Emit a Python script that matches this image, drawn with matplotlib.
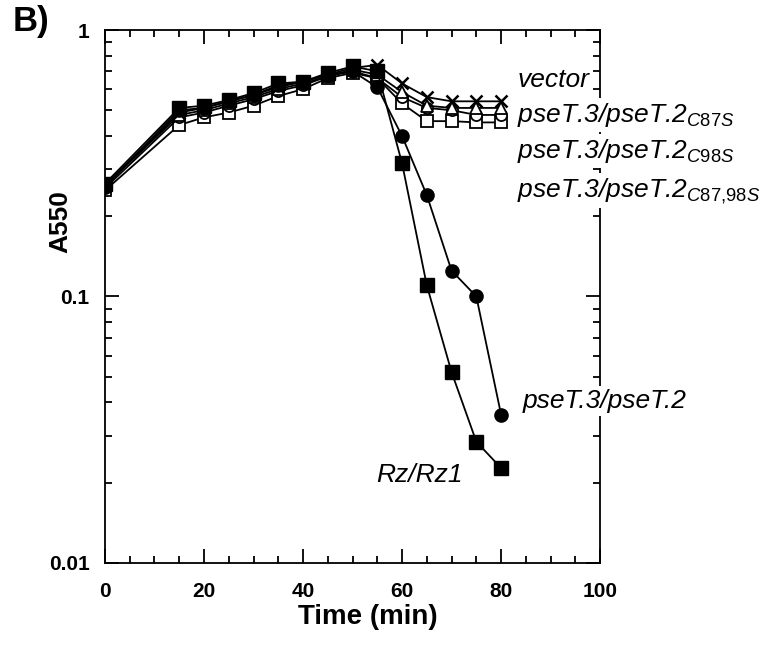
import numpy as np
import matplotlib
matplotlib.use('Agg')
import matplotlib.pyplot as plt
from matplotlib.ticker import MultipleLocator, LogLocator, NullFormatter, FixedLocator

plt.rcParams['font.family'] = ['Liberation Sans', 'DejaVu Sans']
plt.rcParams['mathtext.fontset'] = 'custom'
plt.rcParams['mathtext.it'] = 'Liberation Sans:italic'
plt.rcParams['mathtext.rm'] = 'Liberation Sans'

# dados
tempo = [0, 15, 20, 25, 30, 35, 40, 45, 50, 55, 60, 65, 70, 75, 80]
vector = [0.26, 0.49, 0.51, 0.54, 0.57, 0.61, 0.64, 0.68, 0.72, 0.74, 0.63, 0.56, 0.54, 0.54, 0.54]
c87s = [0.26, 0.48, 0.50, 0.53, 0.56, 0.60, 0.63, 0.67, 0.71, 0.68, 0.585, 0.52, 0.51, 0.51, 0.51]
c98s = [0.255, 0.47, 0.49, 0.52, 0.55, 0.59, 0.62, 0.67, 0.70, 0.66, 0.56, 0.51, 0.50, 0.48, 0.48]
c8798s = [0.25, 0.44, 0.47, 0.49, 0.52, 0.565, 0.60, 0.66, 0.69, 0.66, 0.53, 0.455, 0.455, 0.45, 0.45]
pset = [0.26, 0.50, 0.51, 0.54, 0.57, 0.62, 0.64, 0.68, 0.70, 0.61, 0.40, 0.24, 0.125, 0.10, 0.036]
rz = [0.265, 0.51, 0.52, 0.546, 0.58, 0.63, 0.64, 0.69, 0.73, 0.70, 0.316, 0.11, 0.052, 0.0285, 0.0227]

fig = plt.figure(figsize=(7.81, 6.47), dpi=100)
ax = fig.add_axes([0.1344, 0.130, 0.634, 0.8236])

lw = 1.3
ax.plot(tempo, c8798s, color='black', lw=lw, marker='s', ms=8.5, mfc='white', mec='black', mew=1.3)
ax.plot(tempo, c98s, color='black', lw=lw, marker='o', ms=8, mfc='white', mec='black', mew=1.3)
ax.plot(tempo, c87s, color='black', lw=lw, marker='^', ms=9, mfc='white', mec='black', mew=1.3)
ax.plot(tempo, vector, color='black', lw=lw, marker='x', ms=9, mec='black', mew=1.8)
ax.plot(tempo, pset, color='black', lw=lw, marker='o', ms=9.5, mfc='black', mec='black')
ax.plot(tempo, rz, color='black', lw=lw, marker='s', ms=10.5, mfc='black', mec='black')

ax.set_yscale('log')
ax.set_xlim(0, 100)
ax.set_ylim(0.01, 1)
ax.xaxis.set_major_locator(MultipleLocator(20))
ax.xaxis.set_minor_locator(MultipleLocator(5))
ax.yaxis.set_major_locator(FixedLocator([0.01, 0.1, 1]))
ax.yaxis.set_minor_locator(LogLocator(base=10, subs=np.arange(2, 10)))
ax.yaxis.set_minor_formatter(NullFormatter())
ax.set_yticklabels(['0.01', '0.1', '1'])
ax.tick_params(which='both', direction='in', top=True, right=True, width=1.3)
ax.tick_params(which='major', length=10, labelsize=15)
ax.tick_params(which='minor', length=5)
ax.tick_params(axis='x', which='major', pad=14)
ax.tick_params(axis='y', which='major', pad=11)
for lab in ax.get_xticklabels() + ax.get_yticklabels():
    lab.set_fontweight('bold')
for sp in ax.spines.values():
    sp.set_linewidth(1.3)

ax.set_xlabel('Time (min)', fontsize=20, fontweight='bold')
ax.set_ylabel('A550', fontsize=19, fontweight='bold')
ax.xaxis.set_label_coords(0.531, -0.078)
ax.yaxis.set_label_coords(-0.065, 0.64)

fs = 19
caixa = dict(facecolor='white', edgecolor='none', pad=2)
rotulos = [
    (0.834, 0.894, 'vector'),
    (0.832, 0.828, r'pseT.3/pseT.2$_{\mathit{C87S}}$'),
    (0.832, 0.760, r'pseT.3/pseT.2$_{\mathit{C98S}}$'),
    (0.832, 0.687, r'pseT.3/pseT.2$_{\mathit{C87{,}98S}}$'),
    (0.844, 0.291, 'pseT.3/pseT.2'),
]
for x, y, t in rotulos:
    ax.text(x, y, t, transform=ax.transAxes, fontsize=fs, style='italic',
            va='baseline', bbox=caixa, zorder=6, clip_on=False)
ax.text(0.723, 0.152, 'Rz/Rz1', transform=ax.transAxes, fontsize=fs, style='italic',
        va='baseline', ha='right', zorder=6)

fig.text(0.0166, 0.966, 'B)', fontsize=25, fontweight='bold', va='center')

plt.savefig('out.png', dpi=100)
